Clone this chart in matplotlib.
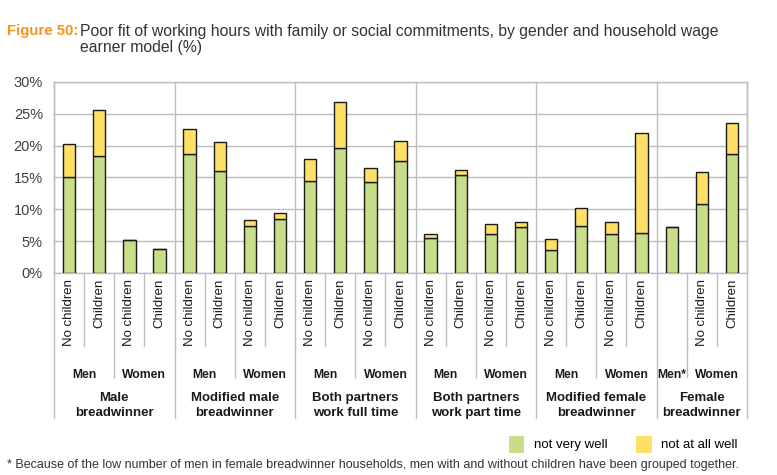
import numpy as np
import matplotlib
matplotlib.use("Agg")
import matplotlib.pyplot as plt
from matplotlib.patches import Patch
import matplotlib.transforms as mtransforms

plt.rcParams['font.family'] = ['Liberation Sans', 'DejaVu Sans']

# data (%)
groups = ["Male\nbreadwinner", "Modified male\nbreadwinner", "Both partners\nwork full time",
          "Both partners\nwork part time", "Modified female\nbreadwinner", "Female\nbreadwinner"]
genders = [["Men", "Women"], ["Men", "Women"], ["Men", "Women"],
           ["Men", "Women"], ["Men", "Women"], ["Men*", "Women"]]
children = [[["No children", "Children"], ["No children", "Children"]]] * 5 + \
           [[[""], ["No children", "Children"]]]

not_very_well = [15.1, 18.4, 5.2, 3.8,
                 18.7, 16.0, 7.4, 8.5,
                 14.5, 19.6, 14.3, 17.6,
                 5.5, 15.4, 6.2, 7.2,
                 3.6, 7.4, 6.1, 6.3,
                 7.2, 10.8, 18.7]
not_at_all_well = [5.2, 7.2, 0.0, 0.0,
                   3.9, 4.6, 0.9, 0.9,
                   3.4, 7.3, 2.2, 3.1,
                   0.6, 0.8, 1.5, 0.8,
                   1.7, 2.8, 1.9, 15.7,
                   0.0, 5.1, 4.9]

green = "#c8dd8a"
yellow = "#ffe066"
grid = "#bdbdbd"
dark = "#1a1a1a"

fig = plt.figure(figsize=(7.77, 4.75), dpi=100)
ax = fig.add_axes([0.0695, 0.4253, 0.8919, 0.4021])

x = np.arange(len(not_very_well))
ax.bar(x, not_very_well, width=0.41, color=green, edgecolor=dark, linewidth=1, zorder=3)
ax.bar(x, not_at_all_well, width=0.41, bottom=not_very_well, color=yellow,
       edgecolor=dark, linewidth=1, zorder=3)

ax.set_ylim(0, 30)
ax.set_xlim(-0.5, len(x) - 0.5)
ax.set_yticks(np.arange(0, 31, 5))
ax.set_yticklabels([f"{v}%" for v in range(0, 31, 5)])
ax.tick_params(axis='y', length=0, pad=8, labelsize=10.5, labelcolor="#404040")
ax.set_xticks([])
ax.yaxis.grid(True, color=grid, linewidth=1, zorder=0)
for s in ax.spines.values():
    s.set_color(grid)
    s.set_linewidth(1)

trans = mtransforms.blended_transform_factory(ax.transData, ax.transAxes)

# hierarchical category labels under the axis
pos = 0
bounds = [-0.5]
for g, gname in enumerate(groups):
    gstart = pos
    for k, gender in enumerate(genders[g]):
        sstart = pos
        for j, lab in enumerate(children[g][k]):
            if lab:
                ax.text(pos, -0.03, lab, rotation=90, ha='center', va='top',
                        fontsize=9.5, color=dark, transform=trans)
            if j > 0:
                ax.plot([pos - 0.5, pos - 0.5], [0, -0.382], color=grid, lw=1,
                        transform=trans, clip_on=False)
            pos += 1
        ax.text((sstart + pos - 1) / 2, -0.534, gender, ha='center', va='center',
                fontsize=8.7, fontweight='bold', color=dark, transform=trans)
        if k > 0:
            ax.plot([sstart - 0.5, sstart - 0.5], [0, -0.545], color=grid, lw=1,
                    transform=trans, clip_on=False)
    ax.text((gstart + pos - 1) / 2, -0.694, gname, ha='center', va='center',
            fontsize=9.5, fontweight='bold', color=dark, linespacing=1.25, transform=trans)
    bounds.append(pos - 0.5)

for b in bounds:
    ax.plot([b, b], [-0.759, 1], color=grid, lw=1, transform=trans, clip_on=False, zorder=1)

# title
fig.text(0.009, 0.934, "Figure 50:", color="#f7941d", fontsize=10.8, fontweight='bold',
         va='center')
fig.text(0.103, 0.934, "Poor fit of working hours with family or social commitments, by gender and household wage",
         fontsize=11.3, color="#333333", va='center')
fig.text(0.103, 0.900, "earner model (%)", fontsize=11.3, color="#333333", va='center')

# legend
handles = [Patch(facecolor=green, edgecolor='none', label="not very well"),
           Patch(facecolor=yellow, edgecolor='none', label="not at all well")]
fig.legend(handles=handles, loc='center right', bbox_to_anchor=(0.965, 0.065), ncol=2,
           frameon=False, fontsize=9.5, handlelength=1.2, handleheight=1.6,
           columnspacing=2.2, handletextpad=0.7)

fig.text(0.009, 0.021, "* Because of the low number of men in female breadwinner households, "
         "men with and without children have been grouped together.",
         fontsize=9, color="#333333", va='center')

fig.savefig("out.png", dpi=100)
